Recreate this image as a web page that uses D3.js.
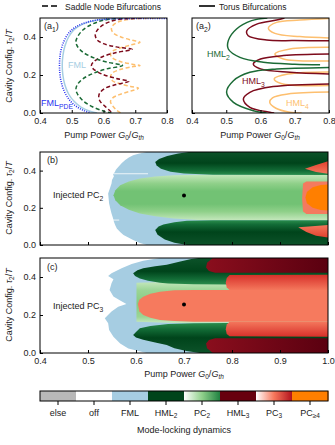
<!DOCTYPE html>
<html>
<head>
<meta charset="utf-8">
<script src="https://cdn.jsdelivr.net/npm/d3@7"></script>
<style>
  body { margin: 0; background: #fff; }
  text { font-family: "Liberation Sans", Arial, sans-serif; }
</style>
</head>
<body>
<div id="chart"></div>
<script>
// ---------- data: (G0/Gth, tau2/T) pairs ----------

// (a1) saddle node bifurcations
const fmlPdeCurve = [[0.80,0.497],[0.70,0.497],[0.62,0.495],[0.575,0.488],[0.54,0.474],[0.51,0.45],[0.49,0.42],[0.476,0.38],[0.466,0.33],[0.462,0.28],[0.462,0.22],[0.466,0.17],[0.475,0.12],[0.49,0.075],[0.51,0.04],[0.535,0.015],[0.56,0.0]];
const fmlCurve = [[0.62,0.497],[0.57,0.486],[0.535,0.468],[0.508,0.44],[0.49,0.40],[0.478,0.35],[0.472,0.30],[0.47,0.25],[0.472,0.2],[0.478,0.15],[0.49,0.1],[0.508,0.06],[0.53,0.03],[0.56,0.008],[0.58,0.0]];
const hml2Saddle = [[0.66,0.5],[0.60,0.488],[0.565,0.468],[0.535,0.437],[0.518,0.4],[0.513,0.375],[0.518,0.35],[0.535,0.32],[0.57,0.29],[0.61,0.268],[0.66,0.25],[0.61,0.232],[0.57,0.21],[0.535,0.18],[0.518,0.15],[0.513,0.125],[0.518,0.1],[0.535,0.065],[0.565,0.033],[0.60,0.01],[0.625,0.0]];
const hml3Saddle = [[0.72,0.5],[0.64,0.49],[0.60,0.465],[0.58,0.435],[0.574,0.41],[0.58,0.385],[0.60,0.365],[0.64,0.348],[0.69,0.335],[0.64,0.318],[0.595,0.295],[0.568,0.268],[0.562,0.25],[0.568,0.232],[0.595,0.205],[0.64,0.182],[0.68,0.167],[0.64,0.15],[0.605,0.13],[0.588,0.105],[0.585,0.083],[0.59,0.06],[0.605,0.035],[0.62,0.012],[0.63,0.0]];
const hml4Saddle = [[0.78,0.5],[0.68,0.492],[0.645,0.478],[0.628,0.458],[0.625,0.44],[0.632,0.42],[0.655,0.4],[0.69,0.383],[0.715,0.372],[0.685,0.358],[0.65,0.34],[0.628,0.325],[0.622,0.31],[0.628,0.29],[0.655,0.27],[0.69,0.257],[0.715,0.25],[0.69,0.243],[0.655,0.23],[0.628,0.21],[0.622,0.19],[0.628,0.17],[0.65,0.155],[0.685,0.14],[0.71,0.13],[0.685,0.115],[0.65,0.097],[0.628,0.078],[0.622,0.06],[0.628,0.04],[0.641,0.015],[0.655,0.0]];

// (a2) torus bifurcations, one list per branch
const hml2Torus = [
  [[0.62,0.5],[0.574,0.486],[0.53,0.442],[0.506,0.381],[0.506,0.337],[0.54,0.293],[0.608,0.267],[0.70,0.257],[0.774,0.254]],
  [[0.80,0.239],[0.70,0.235],[0.647,0.232],[0.569,0.214],[0.521,0.17],[0.501,0.109],[0.521,0.056],[0.579,0.012],[0.618,0.0]]
];
const hml3Torus = [
  [[0.67,0.5],[0.647,0.489],[0.589,0.468],[0.56,0.433],[0.564,0.407],[0.618,0.384],[0.70,0.381],[0.80,0.38]],
  [[0.80,0.31],[0.667,0.302],[0.60,0.284],[0.579,0.258],[0.60,0.232],[0.686,0.214],[0.80,0.205]],
  [[0.80,0.153],[0.637,0.139],[0.569,0.109],[0.55,0.074],[0.569,0.03],[0.627,0.004],[0.64,0.0]]
];
const hml4Torus = [
  [[0.80,0.497],[0.715,0.489],[0.647,0.477],[0.623,0.447],[0.642,0.419],[0.715,0.402],[0.80,0.395]],
  [[0.80,0.346],[0.686,0.337],[0.642,0.311],[0.667,0.284],[0.80,0.274]],
  [[0.80,0.216],[0.68,0.205],[0.64,0.18],[0.66,0.155],[0.80,0.145]],
  [[0.80,0.11],[0.68,0.1],[0.635,0.08],[0.627,0.056],[0.645,0.025],[0.686,0.004],[0.72,0.0]]
];

// (b) injected PC2 regions
const bFml = [[0.622,0.5],[0.605,0.49],[0.594,0.482],[0.585,0.47],[0.577,0.455],[0.57,0.44],[0.563,0.42],[0.558,0.405],[0.556,0.393],[0.552,0.38],[0.554,0.37],[0.55,0.35],[0.549,0.33],[0.545,0.3],[0.542,0.277],[0.543,0.25],[0.544,0.223],[0.547,0.19],[0.549,0.17],[0.552,0.145],[0.554,0.125],[0.557,0.105],[0.56,0.089],[0.567,0.07],[0.574,0.054],[0.584,0.04],[0.594,0.027],[0.607,0.012],[0.622,0.0],[1.0,0.0],[1.0,0.5]];
const bHml2Top = [[0.64,0.446],[0.648,0.462],[0.665,0.478],[0.688,0.492],[0.71,0.5],[1.0,0.5],[1.0,0.377],[0.76,0.378],[0.7,0.384],[0.672,0.394],[0.652,0.41],[0.643,0.428]];
const bHml2Bot = [[0.64,0.08],[0.647,0.1],[0.657,0.11],[0.68,0.122],[0.706,0.13],[0.76,0.133],[1.0,0.133],[1.0,0.0],[0.706,0.0],[0.68,0.012],[0.66,0.03],[0.645,0.055]];
const bPc2 = [[0.553,0.268],[0.557,0.295],[0.567,0.321],[0.585,0.342],[0.608,0.357],[0.64,0.368],[0.678,0.375],[0.73,0.378],[1.0,0.378],[1.0,0.133],[0.73,0.134],[0.678,0.143],[0.64,0.155],[0.608,0.17],[0.585,0.19],[0.567,0.214],[0.557,0.24]];
const bPc3 = [[0.955,0.342],[1.0,0.342],[1.0,0.166],[0.955,0.166],[0.948,0.18],[0.946,0.25],[0.948,0.33]];
const bPc3Top = [[0.952,0.41],[0.975,0.43],[1.0,0.45],[1.0,0.383],[0.975,0.392]];
const bPc3Bot = [[0.938,0.095],[0.96,0.1],[1.0,0.107],[1.0,0.04],[0.975,0.05],[0.955,0.07]];
const bPc4 = [[0.953,0.255],[0.956,0.285],[0.968,0.31],[0.985,0.322],[1.0,0.325],[1.0,0.185],[0.985,0.188],[0.968,0.2],[0.956,0.225]];
const bGaps = [[[0.55,0.383],[0.625,0.383]], [[0.55,0.134],[0.565,0.134]]];

// (c) injected PC3 regions
const cFml = [[0.65,0.5],[0.615,0.486],[0.591,0.468],[0.57,0.446],[0.549,0.42],[0.542,0.405],[0.553,0.388],[0.549,0.367],[0.545,0.332],[0.553,0.297],[0.567,0.276],[0.58,0.258],[0.563,0.244],[0.549,0.218],[0.535,0.183],[0.542,0.156],[0.544,0.121],[0.553,0.086],[0.567,0.05],[0.584,0.024],[0.622,0.0],[1.0,0.0],[1.0,0.5]];
const cPc2 = [[0.601,0.37],[0.68,0.375],[1.0,0.375],[1.0,0.16],[0.68,0.158],[0.601,0.165]];
const cHml2Top = [[0.594,0.42],[0.603,0.436],[0.615,0.446],[0.64,0.456],[0.664,0.465],[0.69,0.48],[0.715,0.495],[0.73,0.5],[1.0,0.5],[1.0,0.36],[0.79,0.36],[0.72,0.362],[0.667,0.366],[0.65,0.37],[0.625,0.38],[0.608,0.392],[0.598,0.405]];
const cHml2Bot = [[0.594,0.095],[0.6,0.11],[0.608,0.13],[0.63,0.142],[0.667,0.152],[0.72,0.156],[0.79,0.158],[1.0,0.158],[1.0,0.0],[0.733,0.0],[0.705,0.01],[0.68,0.025],[0.664,0.042],[0.64,0.055],[0.615,0.07],[0.6,0.082]];
const cHml3Top = [[0.76,0.5],[1.0,0.5],[1.0,0.423],[0.765,0.423],[0.752,0.432],[0.746,0.45],[0.748,0.475]];
const cHml3Bot = [[0.76,0.0],[1.0,0.0],[1.0,0.077],[0.765,0.077],[0.752,0.068],[0.746,0.05],[0.748,0.025]];
const cPc3Top = [[0.795,0.41],[1.0,0.412],[1.0,0.332],[0.795,0.332],[0.789,0.345],[0.787,0.37],[0.789,0.395]];
const cPc3Bot = [[0.795,0.165],[1.0,0.165],[1.0,0.086],[0.795,0.088],[0.789,0.1],[0.787,0.125],[0.789,0.15]];
const cPc3Mid = [[0.604,0.258],[0.607,0.28],[0.615,0.296],[0.63,0.312],[0.65,0.323],[0.68,0.33],[0.72,0.332],[1.0,0.332],[1.0,0.165],[0.72,0.165],[0.68,0.168],[0.65,0.174],[0.63,0.186],[0.615,0.2],[0.607,0.22]];

// injected states (black dots)
const injectB = [[0.70,0.266]];
const injectC = [[0.70,0.255]];

// colour bar categories
const categories = ["else","off","FML","HML2","PC2","HML3","PC3","PC>=4"];

// ticks
const xTicksA = [0.4,0.5,0.6,0.7,0.8];
const xTicksB = [0.4,0.5,0.6,0.7,0.8,0.9,1.0];
const yTicks = [0.0,0.2,0.4];

// ---------- layout ----------
const W = 335, H = 445;
const svg = d3.select("#chart").append("svg").attr("width", W).attr("height", H);
const defs = svg.append("defs");

const xA1 = d3.scaleLinear([0.4,0.8],[40,167]);
const xA2 = d3.scaleLinear([0.4,0.8],[192,329]);
const yA = d3.scaleLinear([0,0.5],[113,18]);
const xB = d3.scaleLinear([0.4,1.0],[40,328]);
const yB = d3.scaleLinear([0,0.5],[245,152]);
const yC = d3.scaleLinear([0,0.5],[353,258]);

const col = {
  green: "#1b6b36", red: "#7d0b1c", orange: "#fdbf6f", blue: "#2a32f0", lblue: "#a6cee3",
  fml: "#a6cde2", hml2: "#00441b", hml3: "#67000d", pc4: "#ff7f00", other: "#b8b8b8", text: "#222"
};

function clip(id, x, y) {
  defs.append("clipPath").attr("id", id).append("rect")
    .attr("x", x.range()[0]).attr("y", y.range()[1])
    .attr("width", x.range()[1] - x.range()[0]).attr("height", y.range()[0] - y.range()[1]);
}

// vertical gradient along tau
function vGrad(id, y, stops) {
  const y1 = y(stops[0][0]), y2 = y(stops[stops.length-1][0]);
  const g = defs.append("linearGradient").attr("id", id).attr("gradientUnits","userSpaceOnUse")
    .attr("x1",0).attr("x2",0).attr("y1",y1).attr("y2",y2);
  stops.forEach(s => g.append("stop").attr("offset", (y(s[0]) - y1) / (y2 - y1)).attr("stop-color", s[1]));
  return `url(#${id})`;
}

function axes(x, y, xt, showX, showY) {
  const [x0, x1] = x.range(), [yb, yt] = y.range();
  const gx = svg.append("g").attr("transform", `translate(0,${yb})`)
    .call(d3.axisBottom(x).tickValues(xt).tickSizeInner(-3).tickSizeOuter(0).tickPadding(5)
      .tickFormat(showX ? d3.format(".1f") : () => ""));
  const gy = svg.append("g").attr("transform", `translate(${x0},0)`)
    .call(d3.axisLeft(y).tickValues(yTicks).tickSizeInner(-3).tickSizeOuter(0).tickPadding(4)
      .tickFormat(showY ? d3.format(".1f") : () => ""));
  [gx, gy].forEach(g => {
    g.select(".domain").remove();
    g.selectAll("text").attr("font-size", 9).attr("fill", col.text)
      .style("font-family", '"Liberation Sans", Arial, sans-serif');
    g.selectAll("line").attr("stroke", "#000");
  });
  svg.append("rect").attr("x", x0).attr("y", yt).attr("width", x1 - x0).attr("height", yb - yt)
    .attr("fill", "none").attr("stroke", "#000").attr("stroke-width", 1);
}

function xTitle(cx, y) {
  const t = svg.append("text").attr("x", cx).attr("y", y).attr("text-anchor","middle").attr("font-size", 9).attr("fill", col.text);
  t.append("tspan").text("Pump Power ");
  t.append("tspan").attr("font-style","italic").text("G");
  t.append("tspan").attr("font-size", 6.5).attr("dy", 2).text("0");
  t.append("tspan").attr("dy", -2).text("/");
  t.append("tspan").attr("font-style","italic").text("G");
  t.append("tspan").attr("font-size", 6.5).attr("font-style","italic").attr("dy", 2).text("th");
}

function yTitle(cy) {
  const t = svg.append("text").attr("transform", `translate(12,${cy}) rotate(-90)`)
    .attr("text-anchor","middle").attr("font-size", 9).attr("fill", col.text);
  t.append("tspan").text("Cavity Config. ");
  t.append("tspan").attr("font-style","italic").text("τ");
  t.append("tspan").attr("font-size", 6.5).attr("dy", 2).text("2");
  t.append("tspan").attr("dy", -2).text("/");
  t.append("tspan").attr("font-style","italic").text("T");
}

function subLabel(x, y, main, sub, color, size) {
  const t = svg.append("text").attr("x", x).attr("y", y).attr("font-size", size || 9).attr("fill", color || col.text);
  t.append("tspan").text(main);
  t.append("tspan").attr("font-size", (size || 9) * 0.75).attr("dy", 2.5).text(sub);
  return t;
}

// ---------- top legend ----------
svg.append("line").attr("x1", 42).attr("x2", 58).attr("y1", 6).attr("y2", 6)
  .attr("stroke", "#000").attr("stroke-width", 1.6).attr("stroke-dasharray", "6,3");
svg.append("text").attr("x", 65).attr("y", 9.5).attr("font-size", 8.5).attr("fill", col.text).text("Saddle Node Bifurcations");
svg.append("line").attr("x1", 199).attr("x2", 215).attr("y1", 6).attr("y2", 6)
  .attr("stroke", "#000").attr("stroke-width", 1.6);
svg.append("text").attr("x", 219).attr("y", 9.5).attr("font-size", 8.5).attr("fill", col.text).text("Torus Bifurcations");

// ---------- (a1) ----------
clip("clipA1", xA1, yA);
const gA1 = svg.append("g").attr("clip-path", "url(#clipA1)");
const lineA1 = d3.line().x(d => xA1(d[0])).y(d => yA(d[1])).curve(d3.curveCatmullRom);
gA1.append("path").attr("d", lineA1(fmlCurve)).attr("fill","none").attr("stroke", col.lblue).attr("stroke-width", 1.5);
gA1.append("path").attr("d", lineA1(hml4Saddle)).attr("fill","none").attr("stroke", col.orange).attr("stroke-width", 1.5).attr("stroke-dasharray","4,2.5");
gA1.append("path").attr("d", lineA1(hml3Saddle)).attr("fill","none").attr("stroke", col.red).attr("stroke-width", 1.5).attr("stroke-dasharray","4,2.5");
gA1.append("path").attr("d", lineA1(hml2Saddle)).attr("fill","none").attr("stroke", col.green).attr("stroke-width", 1.5).attr("stroke-dasharray","4,2.5");
gA1.append("path").attr("d", lineA1(fmlPdeCurve)).attr("fill","none").attr("stroke", col.blue).attr("stroke-width", 1.6).attr("stroke-dasharray","1,1.3");
axes(xA1, yA, xTicksA, true, true);
subLabel(44, 29, "(a", "1").append("tspan").attr("dy", -2.5).attr("font-size", 9).text(")");
svg.append("text").attr("x", 68).attr("y", 68).attr("font-size", 9).attr("fill", col.lblue).text("FML");
subLabel(41, 106, "FML", "PDE", col.blue);
xTitle(104, 138);
yTitle(66);

// ---------- (a2) ----------
clip("clipA2", xA2, yA);
const gA2 = svg.append("g").attr("clip-path", "url(#clipA2)");
const lineA2 = d3.line().x(d => xA2(d[0])).y(d => yA(d[1])).curve(d3.curveCatmullRom);
[[hml4Torus, col.orange], [hml3Torus, col.red], [hml2Torus, col.green]].forEach(([segs, c]) => {
  segs.forEach(s => gA2.append("path").attr("d", lineA2(s)).attr("fill","none").attr("stroke", c).attr("stroke-width", 1.5));
});
axes(xA2, yA, xTicksA, true, false);
subLabel(196, 29, "(a", "2").append("tspan").attr("dy", -2.5).attr("font-size", 9).text(")");
subLabel(207, 57, "HML", "2", col.green);
subLabel(242, 84, "HML", "3", col.red);
subLabel(286, 106, "HML", "4", col.orange);
xTitle(260, 138);

// ---------- region drawing helper ----------
function regions(clipId, x, y, layers) {
  clip(clipId, x, y);
  const g = svg.append("g").attr("clip-path", `url(#${clipId})`);
  const area = d3.line().x(d => x(d[0])).y(d => y(d[1])).curve(d3.curveLinearClosed);
  layers.forEach(([pts, fill]) => g.append("path").attr("d", area(pts)).attr("fill", fill));
  return g;
}

// ---------- (b) ----------
const gHmlTopB = vGrad("gHmlTopB", yB, [[0.5,"#0c5229"],[0.44,"#00441b"],[0.40,"#126b36"],[0.378,"#2a8d4c"]]);
const gHmlBotB = vGrad("gHmlBotB", yB, [[0.133,"#2a8d4c"],[0.11,"#126b36"],[0.07,"#00441b"],[0.0,"#0c5229"]]);
const gPc2B = vGrad("gPc2B", yB, [[0.378,"#c4e7bc"],[0.33,"#8fd089"],[0.29,"#72c274"],[0.22,"#72c274"],[0.18,"#8fd089"],[0.133,"#c4e7bc"]]);
const gRedTopB = vGrad("gRedTopB", yB, [[0.45,"#e2412f"],[0.383,"#f4775c"]]);
const gRedBotB = vGrad("gRedBotB", yB, [[0.107,"#f4775c"],[0.04,"#e2412f"]]);
const gB = regions("clipB", xB, yB, [
  [bFml, col.fml], [bPc2, gPc2B], [bHml2Top, gHmlTopB], [bHml2Bot, gHmlBotB],
  [bPc3Top, gRedTopB], [bPc3Bot, gRedBotB], [bPc3, "#f47a5f"], [bPc4, col.pc4]
]);
bGaps.forEach(s => gB.append("line").attr("x1", xB(s[0][0])).attr("x2", xB(s[1][0]))
  .attr("y1", yB(s[0][1])).attr("y2", yB(s[1][1])).attr("stroke", "#fff").attr("stroke-width", 1).attr("opacity", 0.8));
gB.selectAll("circle").data(injectB).join("circle")
  .attr("cx", d => xB(d[0])).attr("cy", d => yB(d[1])).attr("r", 2).attr("fill", "#000");
axes(xB, yB, xTicksB, false, true);
svg.append("text").attr("x", 47).attr("y", 163).attr("font-size", 9).attr("fill", col.text).text("(b)");
subLabel(53, 198, "Injected PC", "2");
yTitle(198);

// ---------- (c) ----------
const gHmlTopC = vGrad("gHmlTopC", yC, [[0.5,"#0c5229"],[0.43,"#00441b"],[0.39,"#126b36"],[0.36,"#2a8d4c"]]);
const gHmlBotC = vGrad("gHmlBotC", yC, [[0.158,"#2a8d4c"],[0.125,"#126b36"],[0.08,"#00441b"],[0.0,"#0c5229"]]);
const gPc2C = vGrad("gPc2C", yC, [[0.375,"#c4e7bc"],[0.33,"#9bd595"],[0.26,"#86cb82"],[0.19,"#9bd595"],[0.16,"#c4e7bc"]]);
const gRedTopC = vGrad("gRedTopC", yC, [[0.412,"#d7302a"],[0.332,"#f4775c"]]);
const gRedBotC = vGrad("gRedBotC", yC, [[0.165,"#f4775c"],[0.086,"#d7302a"]]);
const gDarkRed = defs.append("linearGradient").attr("id","gDarkRed").attr("x1",0).attr("x2",1).attr("y1",0).attr("y2",0);
gDarkRed.append("stop").attr("offset",0).attr("stop-color","#8a0e1d");
gDarkRed.append("stop").attr("offset",1).attr("stop-color","#5a0010");
const gC = regions("clipC", xB, yC, [
  [cFml, col.fml], [cPc2, gPc2C], [cHml2Top, gHmlTopC], [cHml2Bot, gHmlBotC],
  [cHml3Top, "url(#gDarkRed)"], [cHml3Bot, "url(#gDarkRed)"],
  [cPc3Top, gRedTopC], [cPc3Bot, gRedBotC], [cPc3Mid, "#f67a5e"]
]);
gC.selectAll("circle").data(injectC).join("circle")
  .attr("cx", d => xB(d[0])).attr("cy", d => yC(d[1])).attr("r", 2).attr("fill", "#000");
axes(xB, yC, xTicksB, true, true);
svg.append("text").attr("x", 47).attr("y", 270).attr("font-size", 9).attr("fill", col.text).text("(c)");
subLabel(53, 309, "Injected PC", "3");
yTitle(305);
xTitle(184, 377);

// ---------- colour bar ----------
const cb = d3.scaleBand(categories, [40, 328]);
const cbY = 391, cbH = 10;
const gPc2Bar = defs.append("linearGradient").attr("id","gPc2Bar");
gPc2Bar.append("stop").attr("offset",0).attr("stop-color","#ffffff");
gPc2Bar.append("stop").attr("offset",0.5).attr("stop-color","#8fd08a");
gPc2Bar.append("stop").attr("offset",1).attr("stop-color","#1c7f3f");
const gPc3Bar = defs.append("linearGradient").attr("id","gPc3Bar");
gPc3Bar.append("stop").attr("offset",0).attr("stop-color","#ffffff");
gPc3Bar.append("stop").attr("offset",0.5).attr("stop-color","#f6765a");
gPc3Bar.append("stop").attr("offset",1).attr("stop-color","#b0101c");
const cbFill = {"else": col.other, "off": "#ffffff", "FML": col.fml, "HML2": col.hml2,
  "PC2": "url(#gPc2Bar)", "HML3": col.hml3, "PC3": "url(#gPc3Bar)", "PC>=4": col.pc4};
svg.selectAll("rect.cb").data(categories).join("rect").attr("class","cb")
  .attr("x", d => cb(d)).attr("y", cbY).attr("width", cb.bandwidth() + 0.5).attr("height", cbH)
  .attr("fill", d => cbFill[d]);
svg.append("rect").attr("x", 40).attr("y", cbY).attr("width", 288).attr("height", cbH)
  .attr("fill","none").attr("stroke","#000").attr("stroke-width", 1);
svg.selectAll("line.cbt").data(categories).join("line").attr("class","cbt")
  .attr("x1", d => cb(d) + cb.bandwidth()/2).attr("x2", d => cb(d) + cb.bandwidth()/2)
  .attr("y1", cbY + cbH).attr("y2", cbY + cbH + 4).attr("stroke","#000");
categories.forEach(c => {
  const cx = cb(c) + cb.bandwidth()/2;
  const m = c.match(/^(HML|PC)(.+)$/);
  const t = svg.append("text").attr("x", cx).attr("y", 416).attr("text-anchor","middle").attr("font-size", 9).attr("fill", col.text);
  if (m) {
    t.append("tspan").text(m[1]);
    t.append("tspan").attr("font-size", 6.5).attr("dy", 2).text(m[2] === ">=4" ? "≥4" : m[2]);
  } else {
    t.text(c);
  }
});
svg.append("text").attr("x", 184).attr("y", 433).attr("text-anchor","middle").attr("font-size", 9).attr("fill", col.text).text("Mode-locking dynamics");
</script>
</body>
</html>
